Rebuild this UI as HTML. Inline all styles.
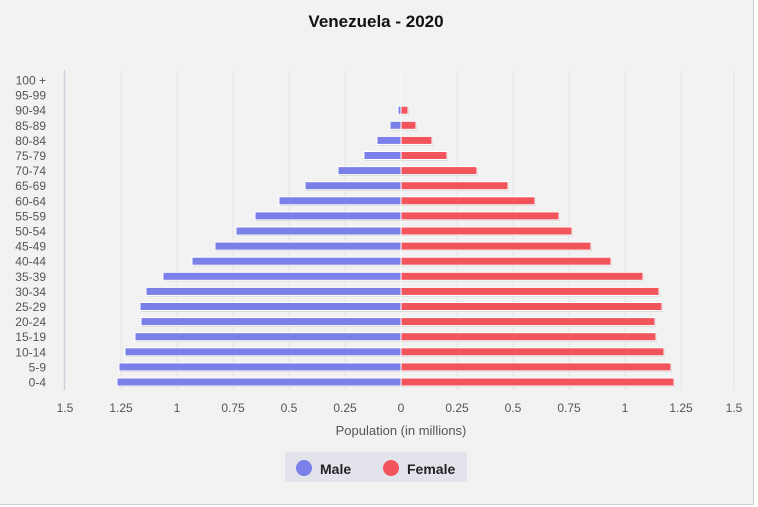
<!DOCTYPE html>
<html><head><meta charset="utf-8"><style>
html,body{margin:0;padding:0;background:#fff;}
svg{display:block;font-family:"Liberation Sans",sans-serif;}
</style></head><body>
<svg id="s" width="758" height="507" xmlns="http://www.w3.org/2000/svg">
<rect x="0" y="0" width="753" height="504" fill="#f2f2f2"/>
<line x1="753.5" y1="0" x2="753.5" y2="505" stroke="#cfcfcf"/>
<line x1="0" y1="504.5" x2="754" y2="504.5" stroke="#cfcfcf"/>
<text x="376" y="27" text-anchor="middle" font-size="17" font-weight="bold" fill="#111">Venezuela - 2020</text>
<g id="g"></g>
<text x="401" y="435" text-anchor="middle" font-size="13" fill="#555">Population (in millions)</text>
<rect x="285" y="452" width="182" height="30" fill="#e3e3ec"/>
<circle cx="304" cy="468" r="8" fill="#7b7fe8"/>
<text x="320" y="474" font-size="14" font-weight="bold" fill="#222">Male</text>
<circle cx="391" cy="468" r="8" fill="#f2545b"/>
<text x="407" y="474" font-size="14" font-weight="bold" fill="#222">Female</text>
</svg>
<script>
var ages=["100 +","95-99","90-94","85-89","80-84","75-79","70-74","65-69","60-64","55-59","50-54","45-49","40-44","35-39","30-34","25-29","20-24","15-19","10-14","5-9","0-4"];
var m=[401,401,398,390,377,364,338,305,279,255,236,215,192,163,146,140,141,135,125,119,117];
var f=[401,401,408,416,432,447,477,508,535,559,572,591,611,643,659,662,655,656,664,671,674];
var h="";
var ticks=[["1.5",65],["1.25",121],["1",177],["0.75",233],["0.5",289],["0.25",345],["0",401],["0.25",457],["0.5",513],["0.75",569],["1",625],["1.25",681],["1.5",734]];
ticks.forEach(function(t){
 if(t[1]!=65&&t[1]!=401) h+='<line x1="'+t[1]+'" y1="70" x2="'+t[1]+'" y2="390" stroke="#e4e4e4"/>';
 h+='<text x="'+t[1]+'" y="412" text-anchor="middle" font-size="12" fill="#555">'+t[0]+'</text>';
});
h+='<line x1="64.5" y1="70" x2="64.5" y2="390" stroke="#d0d0dc" stroke-width="1.5"/>';
h+='<line x1="401" y1="70" x2="401" y2="390" stroke="#fff" stroke-width="1"/>';
for(var i=0;i<21;i++){
 var y=80+15.1*i;
 h+='<text x="46" y="'+(y+4.5)+'" text-anchor="end" font-size="12" fill="#555">'+ages[i]+'</text>';
 if(m[i]<401){h+='<rect x="'+(m[i]+1)+'" y="'+(y-3)+'" width="'+(401-m[i])+'" height="8" fill="#c8c8c8"/>';
  h+='<rect x="'+m[i]+'" y="'+(y-4)+'" width="'+(401-m[i])+'" height="8" fill="#7b7fe8" stroke="#fff" stroke-width="1"/>';}
 if(f[i]>401){h+='<rect x="402" y="'+(y-3)+'" width="'+(f[i]-401)+'" height="8" fill="#c8c8c8"/>';
  h+='<rect x="401" y="'+(y-4)+'" width="'+(f[i]-401)+'" height="8" fill="#f2545b" stroke="#fff" stroke-width="1"/>';}
}
document.getElementById("g").innerHTML=h;
</script>
</body></html>
